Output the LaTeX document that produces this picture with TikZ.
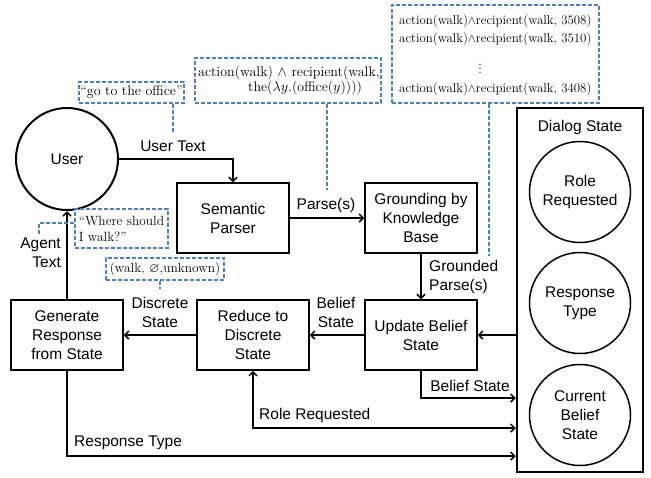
\documentclass[tikz,border=0pt]{standalone}
\usepackage{amssymb}
\usepackage{fontspec}
\newfontfamily\arialf{Liberation Sans}
\usetikzlibrary{arrows.meta,calc}
\definecolor{noteblue}{HTML}{4F81BD}
\begin{document}
\begin{tikzpicture}[x=1pt,y=-1pt,
  lbl/.style={font=\arialf\fontsize{15.5}{19}\selectfont,align=center,inner sep=0pt},
  proc/.style={lbl,draw,line width=1.5pt,minimum width=112,minimum height=70},
  sc/.style={lbl,draw,circle,line width=1.5pt,minimum size=101},
  arr/.style={line width=1.5pt,-{Straight Barb[length=4pt,width=8pt]}},
  darr/.style={line width=1.5pt,{Straight Barb[length=4pt,width=8pt]}-{Straight Barb[length=4pt,width=8pt]}},
  note/.style={draw=noteblue,line width=1.3pt,dash pattern=on 4pt off 2pt,inner sep=0pt},
  conn/.style={draw=noteblue,line width=2.4pt,dash pattern=on 4pt off 2pt},
  ntxt/.style={font=\fontsize{13.4}{16}\selectfont,inner sep=0pt,align=left},
  gtxt/.style={font=\fontsize{12.9}{15}\selectfont,inner sep=0pt,anchor=west}]
\useasboundingbox (0,0) rectangle (651,477);
% main nodes
\node[lbl,draw,circle,line width=2pt,minimum size=102] (user) at (67,159) {User};
\node[proc] (sp) at (233,218) {Semantic\\Parser};
\node[proc] (gk) at (421,218) {Grounding by\\Knowledge\\Base};
\node[proc] (ub) at (421,335) {Update Belief\\State};
\node[proc] (rd) at (253,335) {Reduce to\\Discrete\\State};
\node[proc] (gr) at (67,335) {Generate\\Response\\from State};
\node[draw,line width=2.5pt,minimum width=126,minimum height=364,inner sep=0pt] (ds) at (580,290) {};
\node[lbl] (dst) at (580,127) {Dialog State};
\node[sc] (rr) at (580,192) {Role\\Requested};
\node[sc] (rt) at (580,303) {Response\\Type};
\node[sc] (cb) at (580,415) {Current\\Belief\\State};
% connectors
\draw[arr] (user.east) -| (sp.north);
\draw[arr] (sp.east) -- (gk.west);
\draw[arr] (gk.south) -- (ub.north);
\draw[arr] (ub.west) -- (rd.east);
\draw[arr] (rd.west) -- (gr.east);
\draw[arr] (gr.north) -- (user.south);
\draw[arr] (ub.east -| ds.west) -- (ub.east);
\coordinate (dsA) at (ds.west |- 0,398);
\coordinate (dsB) at (ds.west |- 0,428);
\coordinate (dsC) at (ds.west |- 0,456);
\draw[arr] (ub.south) |- (dsA);
\draw[darr] (rd.south) |- (dsB);
\draw[arr] (gr.south) |- (dsC);
% labels
\node[lbl] (lut) at (173,146) {User Text};
\node[lbl] (lps) at (326,205) {Parse(s)};
\node[lbl,anchor=west,align=left] (lgp) at (429,277) {Grounded\\Parse(s)};
\node[lbl] (lbs1) at (336,312) {Belief\\State};
\node[lbl] (lds) at (160,312) {Discrete\\State};
\node[lbl,anchor=east,align=right] (lat) at (61,253) {Agent\\Text};
\node[lbl] (lbs2) at (470,386) {Belief State};
\node[lbl,anchor=west] (lrr) at (259,415) {Role Requested};
\node[lbl,anchor=west] (lrt) at (74,443) {Response Type};
% notes
\node[note,minimum width=105,minimum height=21] (n1) at (131.5,92.5) {};
\node[ntxt,font=\fontsize{14}{16}\selectfont] (n1t) at (n1) {“go to the office”};
\coordinate (c1) at (173,132);
\draw[conn] (n1.south -| c1) -- (c1);

\node[note,minimum width=186,minimum height=45] (n2) at (288,80.5) {};
\node[ntxt,anchor=west,font=\fontsize{14}{16}\selectfont] (n2a) at (198,73) {action(walk) $\wedge$ recipient(walk,};
\node[ntxt,anchor=west,font=\fontsize{14}{16}\selectfont] (n2b) at (248,88.5) {the($\lambda y.$(office($y$))))};
\coordinate (c2) at (327,190);
\draw[conn] (n2.south -| c2) -- (c2);

\node[note,minimum width=207,minimum height=98] (n3) at (495.5,54) {};
\node[gtxt] (n3a) at (399,21) {action(walk)$\wedge$recipient(walk, 3508)};
\node[gtxt] (n3b) at (399,39) {action(walk)$\wedge$recipient(walk, 3510)};
\node[font=\fontsize{12.9}{15}\selectfont,inner sep=0pt] (n3c) at (480,73) {\smash{$\vdots$}};
\node[gtxt] (n3d) at (399,89) {action(walk)$\wedge$recipient(walk, 3408)};
\coordinate (c3) at (489,256);
\draw[conn] (n3.south -| c3) -- (c3);

\node[note,minimum width=93,minimum height=39] (n4) at (121.5,228.5) {};
\node[ntxt] (n4t) at (n4) {“Where should\\I walk?”};
\coordinate (c4) at (39,235);
\draw[conn] (n4.west |- 0,223) -| (c4);

\node[note,minimum width=118,minimum height=22] (n5) at (165,269) {};
\node[ntxt] (n5t) at (n5) {(walk, $\varnothing$,unknown)};
\coordinate (c5) at (160,289);
\draw[conn] (n5.south -| c5) -- (c5);
\end{tikzpicture}
\end{document}
